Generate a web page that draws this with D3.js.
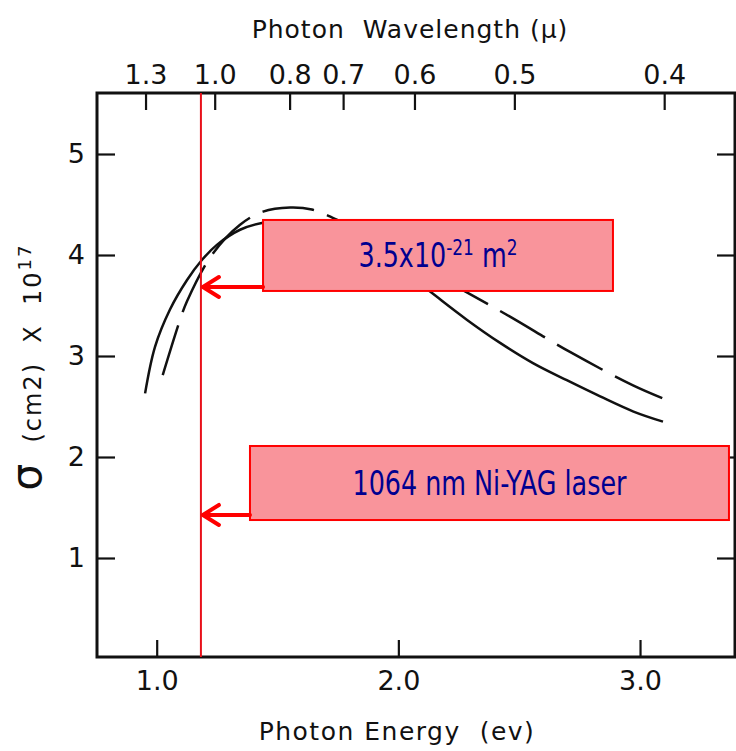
<!DOCTYPE html>
<html>
<head>
<meta charset="utf-8">
<script src="https://cdn.jsdelivr.net/npm/d3@7"></script>
<style>
  body { margin: 0; background: #fff; }
  .axis text { font-family: "DejaVu Sans", sans-serif; fill: #111; }
  .note { font-family: "DejaVu Sans", sans-serif; fill: #000090; }
</style>
</head>
<body>
<div id="chart"></div>
<script>
// Data: photon energy (eV) vs cross section (x 1e-17 cm2)
var solidEnergy = [0.952, 0.993, 1.055, 1.125, 1.187, 1.249, 1.345, 1.440, 1.552, 1.717, 1.924, 2.130, 2.283, 2.421, 2.557, 2.697, 2.835, 2.973, 3.095];
var solidSigma  = [2.63, 3.09, 3.46, 3.75, 3.95, 4.10, 4.25, 4.32, 4.34, 4.25, 4.02, 3.64, 3.36, 3.13, 2.93, 2.76, 2.60, 2.45, 2.35];

var dashEnergy = [1.025, 1.097, 1.125, 1.228, 1.345, 1.440, 1.552, 1.642, 1.745, 2.007, 2.276, 2.462, 2.710, 2.971, 3.116];
var dashSigma  = [2.81, 3.36, 3.54, 4.00, 4.30, 4.43, 4.47, 4.45, 4.35, 4.00, 3.64, 3.39, 3.04, 2.71, 2.56];

var energyTicks = [1.0, 2.0, 3.0];
var sigmaTicks = [1, 2, 3, 4, 5];
var wavelengthTicks = [1.3, 1.0, 0.8, 0.7, 0.6, 0.5, 0.4];

var laserEnergy = 1.183;

// annotation boxes in data units: [E left, E right, sigma top, sigma bottom, arrow sigma]
var crossBox = [1.440, 2.888, 4.347, 3.644, 3.683];
var laserBox = [1.386, 3.368, 2.109, 1.376, 1.426];

// General chart parameters
var svgWidth = 736;
var svgHeight = 751;

var margin = { top: 93, right: 1, bottom: 94, left: 97 };
var width = svgWidth - margin.left - margin.right;
var height = svgHeight - margin.top - margin.bottom;

var svg = d3.select("#chart")
    .append("svg")
    .attr("width", svgWidth)
    .attr("height", svgHeight);

var chartGroup = svg.append("g")
    .attr("transform", `translate(${margin.left}, ${margin.top})`);

var xScale = d3.scaleLinear().domain([0.753, 3.393]).range([0, width]);
var yScale = d3.scaleLinear().domain([0.0198, 5.604]).range([height, 0]);

// Axes, ticks pointing inward
var bottomAxis = d3.axisBottom(xScale)
    .tickValues(energyTicks)
    .tickFormat(d3.format(".1f"))
    .tickSizeInner(-17).tickSizeOuter(0).tickPadding(14);
var leftAxis = d3.axisLeft(yScale)
    .tickValues(sigmaTicks)
    .tickFormat(d3.format("d"))
    .tickSizeInner(-18).tickSizeOuter(0).tickPadding(12);
var rightAxis = d3.axisRight(yScale)
    .tickValues(sigmaTicks)
    .tickFormat("")
    .tickSizeInner(-18).tickSizeOuter(0);
var topAxis = d3.axisTop(xScale)
    .tickValues(wavelengthTicks.map(w => 1.24 / w))
    .tickFormat((d, i) => d3.format(".1f")(wavelengthTicks[i]))
    .tickSizeInner(-17).tickSizeOuter(0).tickPadding(9);

function styleAxis(g) {
    g.select(".domain").remove();
    g.selectAll(".tick line").attr("stroke", "#111").attr("stroke-width", 2.2);
    g.selectAll(".tick text").attr("font-size", 27);
}

chartGroup.append("g").attr("class", "axis")
    .attr("transform", `translate(0, ${height})`)
    .call(bottomAxis).call(styleAxis);
chartGroup.append("g").attr("class", "axis")
    .call(leftAxis).call(styleAxis);
chartGroup.append("g").attr("class", "axis")
    .attr("transform", `translate(${width}, 0)`)
    .call(rightAxis).call(styleAxis);
chartGroup.append("g").attr("class", "axis")
    .call(topAxis).call(styleAxis);

// Frame
chartGroup.append("rect")
    .attr("width", width)
    .attr("height", height)
    .attr("fill", "none")
    .attr("stroke", "#111")
    .attr("stroke-width", 3);

// Curves
var line = d3.line()
    .x(d => xScale(d[0]))
    .y(d => yScale(d[1]))
    .curve(d3.curveCatmullRom);

chartGroup.append("path")
    .datum(d3.zip(solidEnergy, solidSigma))
    .attr("d", line)
    .attr("fill", "none")
    .attr("stroke", "#111")
    .attr("stroke-width", 2.5);

chartGroup.append("path")
    .datum(d3.zip(dashEnergy, dashSigma))
    .attr("d", line)
    .attr("fill", "none")
    .attr("stroke", "#111")
    .attr("stroke-width", 2.5)
    .attr("stroke-dasharray", "52,14");

// Laser line
chartGroup.append("line")
    .attr("x1", xScale(laserEnergy)).attr("x2", xScale(laserEnergy))
    .attr("y1", 0).attr("y2", height)
    .attr("stroke", "#e8101a")
    .attr("stroke-width", 2);

// Annotation boxes with arrows
function drawNote(box, label) {
    var g = chartGroup.append("g");
    var x0 = xScale(box[0]), x1 = xScale(box[1]);
    var y0 = yScale(box[2]), y1 = yScale(box[3]);
    g.append("rect")
        .attr("x", x0).attr("y", y0)
        .attr("width", x1 - x0).attr("height", y1 - y0)
        .attr("fill", "#f9949b")
        .attr("stroke", "#ff0000")
        .attr("stroke-width", 2);
    var tip = xScale(laserEnergy) + 2;
    var ay = yScale(box[4]);
    g.append("path")
        .attr("d", `M${x0},${ay}H${tip}M${tip + 16},${ay - 10}L${tip},${ay}L${tip + 16},${ay + 10}`)
        .attr("fill", "none")
        .attr("stroke", "#ff0000")
        .attr("stroke-width", 4)
        .attr("stroke-linecap", "round")
        .attr("stroke-linejoin", "round");
    // condensed look: squeeze the text horizontally
    var t = g.append("text")
        .attr("class", "note")
        .attr("transform", `translate(${(x0 + x1) / 2}, ${(y0 + y1) / 2 + 12}) scale(0.77, 1)`)
        .attr("text-anchor", "middle")
        .attr("font-size", 33);
    label(t);
}

drawNote(crossBox, function (t) {
    t.append("tspan").text("3.5x10");
    t.append("tspan").attr("font-size", 22).attr("dy", -12).text("-21");
    t.append("tspan").attr("dy", 12).text(" m");
    t.append("tspan").attr("font-size", 22).attr("dy", -12).text("2");
});
drawNote(laserBox, function (t) {
    t.text("1064 nm Ni-YAG laser");
});

// Axis titles
svg.append("text")
    .attr("x", 410).attr("y", 38)
    .attr("text-anchor", "middle")
    .attr("font-family", "DejaVu Sans, sans-serif")
    .attr("font-size", 25)
    .attr("letter-spacing", 1)
    .attr("fill", "#111")
    .attr("xml:space", "preserve")
    .text("Photon  Wavelength (\u03bc)");

svg.append("text")
    .attr("x", 397).attr("y", 740)
    .attr("text-anchor", "middle")
    .attr("font-family", "DejaVu Sans, sans-serif")
    .attr("font-size", 25)
    .attr("letter-spacing", 1.5)
    .attr("fill", "#111")
    .attr("xml:space", "preserve")
    .text("Photon Energy  (ev)");

var yTitle = svg.append("text")
    .attr("transform", "translate(41, 367) rotate(-90)")
    .attr("text-anchor", "middle")
    .attr("font-family", "DejaVu Sans, sans-serif")
    .attr("font-size", 24)
    .attr("letter-spacing", 2)
    .attr("fill", "#111")
    .attr("xml:space", "preserve");
yTitle.append("tspan").attr("font-size", 42).text("\u03c3");
yTitle.append("tspan").text("  (cm2)  X  10");
yTitle.append("tspan").attr("font-size", 18).attr("dy", -10).text("17");
</script>
</body>
</html>
